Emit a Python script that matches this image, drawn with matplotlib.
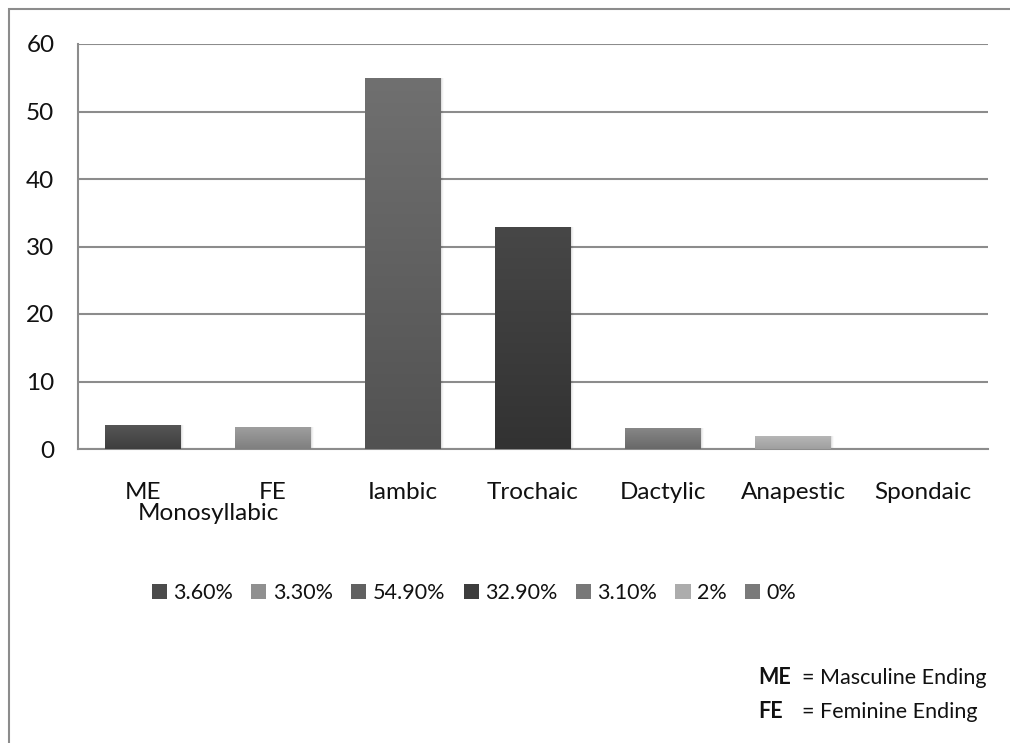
import numpy as np
import matplotlib
matplotlib.use("Agg")
import matplotlib.pyplot as plt
from matplotlib.patches import Rectangle, Patch
from matplotlib.colors import LinearSegmentedColormap, to_rgb
from matplotlib.transforms import blended_transform_factory

plt.rcParams['font.family'] = ['Lato', 'DejaVu Sans']

categories = ["ME", "FE", "Iambic", "Trochaic", "Dactylic", "Anapestic", "Spondaic"]
values = [3.6, 3.3, 54.9, 32.9, 3.1, 2.0, 0.0]
legend_labels = ["3.60%", "3.30%", "54.90%", "32.90%", "3.10%", "2%", "0%"]
# (bottom, top) grey levels of each bar's vertical gradient
bar_shades = [("#3e3e3e", "#575757"), ("#7f7f7f", "#a0a0a0"), ("#525252", "#707070"),
              ("#323232", "#474747"), ("#686868", "#878787"), ("#9f9f9f", "#b8b8b8"),
              ("#6a6a6a", "#8a8a8a")]
yticks = [0, 10, 20, 30, 40, 50, 60]

W, H = 1010, 743
fig = plt.figure(figsize=(W / 100, H / 100), dpi=100)
ax = fig.add_axes([78 / W, 1 - 449 / H, (988 - 78) / W, (449 - 44) / H])

x = np.arange(len(categories))
width = 0.577
bars = ax.bar(x, values, width=width, color="none", edgecolor="none", zorder=3)

grad = np.linspace(0, 1, 256).reshape(-1, 1)
for rect, (lo, hi) in zip(bars, bar_shades):
    h = rect.get_height()
    if h <= 0:
        continue
    x0 = rect.get_x()
    # soft shadow to the right
    for k, a in enumerate([0.06, 0.04, 0.02]):
        ax.add_patch(Rectangle((x0 + 0.01 + 0.01 * k, 0), width, h, facecolor="#000000",
                               alpha=a, edgecolor="none", zorder=2.5))
    cmap = LinearSegmentedColormap.from_list("g", [lo, hi])
    im = ax.imshow(grad, cmap=cmap, aspect="auto", origin="lower",
                   extent=(x0, x0 + width, 0, h), zorder=3)
    im.set_clip_path(rect)

ax.set_xlim(-0.5, len(categories) - 0.5)
ax.set_ylim(0, 60)
ax.set_yticks(yticks)
ax.set_yticklabels([str(t) for t in yticks], fontsize=17.5, color="#111111")
ax.tick_params(axis="y", length=0, pad=17)
ax.tick_params(axis="x", length=0, pad=24)
ax.set_xticks(x)
ax.set_xticklabels(categories, fontsize=17.5, color="#111111")
ax.grid(axis="y", color="#8c8c8c", linewidth=1.5, zorder=1)
ax.set_axisbelow(True)
for s in ["top", "right"]:
    ax.spines[s].set_visible(False)
for s in ["left", "bottom"]:
    ax.spines[s].set_color("#8c8c8c")
    ax.spines[s].set_linewidth(1.5)

# group label under the two monosyllabic categories
ax.text(0.5, 1 - 514 / H, "Monosyllabic",
        transform=blended_transform_factory(ax.transData, fig.transFigure),
        ha="center", va="center", fontsize=17.5, color="#111111")

handles = [Patch(facecolor=(np.array(to_rgb(lo)) + np.array(to_rgb(hi))) / 2, edgecolor="none")
           for lo, hi in bar_shades]
fig.legend(handles, legend_labels, loc="center", bbox_to_anchor=(474 / W, 1 - 593 / H),
           ncol=7, frameon=False, fontsize=15.5, handlelength=0.7, handleheight=0.7,
           handletextpad=0.3, columnspacing=0.85, labelcolor="#111111")

fig.text(758 / W, 1 - 678 / H, "ME", fontsize=15.5, fontweight="bold", va="center", color="#111111")
fig.text(802 / W, 1 - 678 / H, "= Masculine Ending", fontsize=15.5, va="center", color="#111111")
fig.text(758 / W, 1 - 712 / H, "FE", fontsize=15.5, fontweight="bold", va="center", color="#111111")
fig.text(802 / W, 1 - 712 / H, "= Feminine Ending", fontsize=15.5, va="center", color="#111111")

# chart frame
fig.patches.append(Rectangle((9 / W, -0.1), 1.2, 1 - 9 / H + 0.1, transform=fig.transFigure,
                             facecolor="none", edgecolor="#8c8c8c", linewidth=1.5,
                             clip_on=False))

fig.savefig("out.png", dpi=100)
